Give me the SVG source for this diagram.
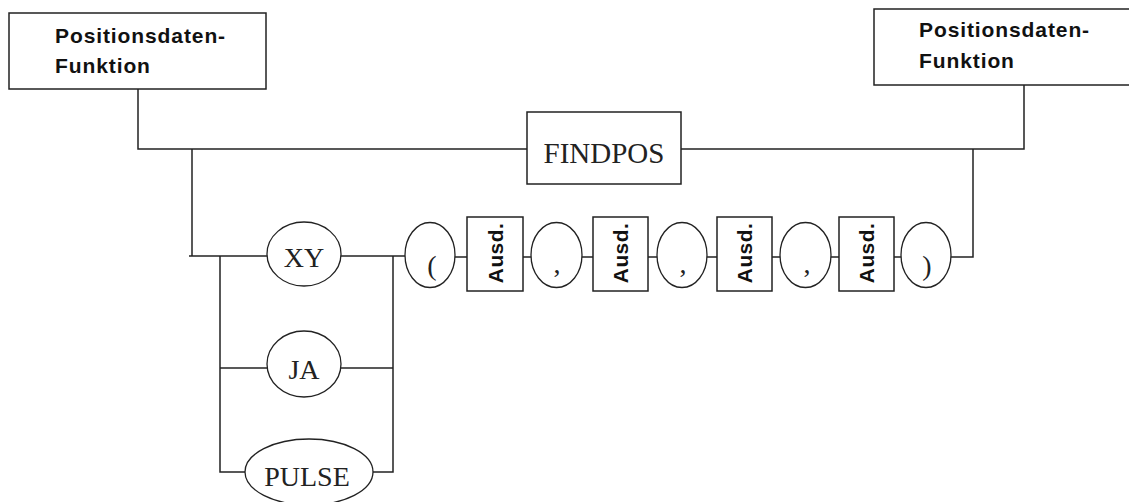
<svg xmlns="http://www.w3.org/2000/svg" width="1129" height="502" viewBox="0 0 1129 502">
<style>
.box{fill:#fff;stroke:#222;stroke-width:1.5}
.ell{fill:#fff;stroke:#222;stroke-width:1.3}
.ln{fill:none;stroke:#222;stroke-width:1.5}
.hd{font-family:"Liberation Sans",Arial,sans-serif;font-weight:bold;font-size:21px;letter-spacing:0.9px;fill:#111}
.tm{font-family:"Liberation Serif","Times New Roman",serif;font-size:28px;fill:#222;text-anchor:middle}
.au{font-family:"Liberation Sans",Arial,sans-serif;font-weight:bold;font-size:21px;letter-spacing:0.4px;fill:#111;text-anchor:middle}
</style>
<rect width="1129" height="502" fill="#fff"/>
<g id="connectors">
<path class="ln" d="M138,89 V149 H527"/>
<path class="ln" d="M681,149 H1024 V85"/>
<path class="ln" d="M192,149 V256"/>
<path class="ln" d="M189,256 H267"/>
<path class="ln" d="M220,256 V472 H245"/>
<path class="ln" d="M220,368 H267"/>
<path class="ln" d="M341,368 H393"/>
<path class="ln" d="M373,472 H393 V256"/>
<path class="ln" d="M341,256 H405"/>
<path class="ln" d="M455,257 H467 M523,257 H531 M582,257 H593 M648,257 H657 M707,257 H717 M772,257 H780 M831,257 H839 M894,257 H901"/>
<path class="ln" d="M951,257 H973 V149"/>
</g>
<g id="pos-left">
<rect class="box" x="9" y="13" width="257" height="76"/>
<text class="hd" x="55" y="43">Positionsdaten-</text>
<text class="hd" x="55" y="73">Funktion</text>
</g>
<g id="pos-right">
<rect class="box" x="874" y="9" width="270" height="76"/>
<text class="hd" x="919" y="37">Positionsdaten-</text>
<text class="hd" x="919" y="68">Funktion</text>
</g>
<g id="findpos">
<rect class="box" x="527" y="112" width="154" height="72"/>
<text class="tm" x="604" y="163" style="font-size:29px">FINDPOS</text>
</g>
<g id="xy">
<ellipse class="ell" cx="304" cy="254" rx="37" ry="32"/>
<text class="tm" x="304" y="267">XY</text>
</g>
<g id="ja">
<ellipse class="ell" cx="304" cy="364" rx="37" ry="33"/>
<text class="tm" x="304" y="379">JA</text>
</g>
<g id="pulse">
<ellipse class="ell" cx="309" cy="472" rx="64" ry="33"/>
<text class="tm" x="307" y="486">PULSE</text>
</g>
<g id="lparen">
<ellipse class="ell" cx="430" cy="255" rx="25" ry="32.5"/>
<text class="tm" x="432" y="275">(</text>
</g>
<g id="ausd1">
<rect class="box" x="467" y="217" width="56" height="74"/>
<text class="au" transform="translate(503,253) rotate(-90)">Ausd.</text>
</g>
<g id="comma1">
<ellipse class="ell" cx="556.5" cy="255" rx="25.5" ry="32.5"/>
<text class="tm" x="557" y="273">,</text>
</g>
<g id="ausd2">
<rect class="box" x="593" y="217" width="55" height="74"/>
<text class="au" transform="translate(628,253) rotate(-90)">Ausd.</text>
</g>
<g id="comma2">
<ellipse class="ell" cx="682" cy="255" rx="25" ry="32.5"/>
<text class="tm" x="683" y="273">,</text>
</g>
<g id="ausd3">
<rect class="box" x="717" y="217" width="55" height="74"/>
<text class="au" transform="translate(752,253) rotate(-90)">Ausd.</text>
</g>
<g id="comma3">
<ellipse class="ell" cx="805.5" cy="255" rx="25.5" ry="32.5"/>
<text class="tm" x="807" y="273">,</text>
</g>
<g id="ausd4">
<rect class="box" x="839" y="217" width="55" height="74"/>
<text class="au" transform="translate(874,253) rotate(-90)">Ausd.</text>
</g>
<g id="rparen">
<ellipse class="ell" cx="926" cy="255" rx="25" ry="32.5"/>
<text class="tm" x="927" y="275">)</text>
</g>
</svg>
